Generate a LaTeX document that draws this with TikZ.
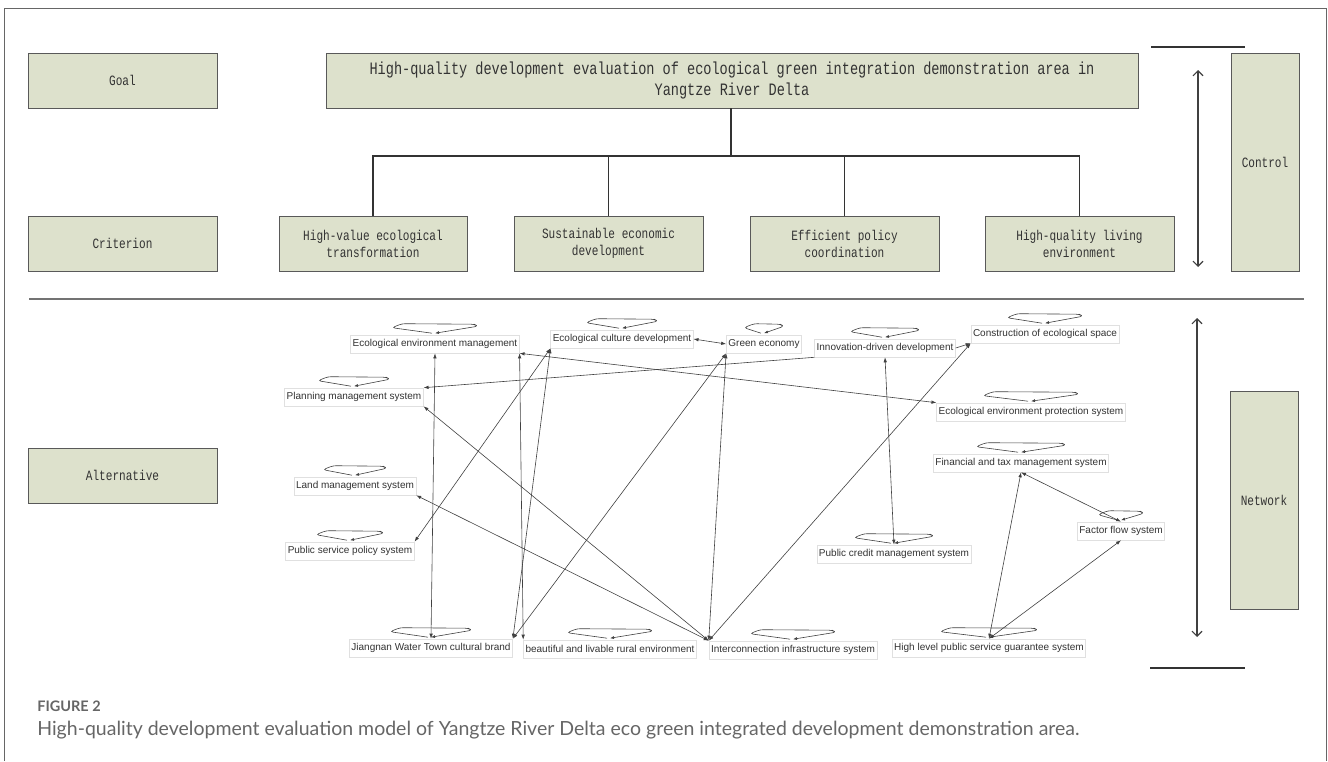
\documentclass[tikz,border=0pt]{standalone}
\usepackage{fontspec}
\setmainfont{Liberation Sans}
\newfontfamily\boxfont[FakeStretch=0.78]{Liberation Mono}
\newfontfamily\capfont{Lato}
\usetikzlibrary{arrows.meta,calc}
\definecolor{boxgreen}{HTML}{DDE1CC}
\definecolor{capgray}{HTML}{666666}
\newcommand{\selfloop}[2]{%
  \draw[loopline] ($(#1.north)+(-3,-1.5)$) -- ($(#1.north)+(-#2,-7)$) -- ($(#1.north)+(-#2+10,-11)$)
     -- ($(#1.north)+(#2-4,-10.5)$) -- ($(#1.north)+(#2,-8.5)$) -- ($(#1.north)+(0,-1.5)$);}

\begin{document}
\begin{tikzpicture}[x=1pt, y=-1pt,
                    line width=0.6pt,
                    ]
    \tikzstyle{levelbox}=[draw=black!65, fill=boxgreen, line width=0.9pt, inner sep=2pt, align=center,
                          text=black!80, minimum width=189pt, minimum height=55pt,
                          font=\boxfont\fontsize{14.2}{17}\selectfont]
    \tikzstyle{sidebox}=[levelbox, minimum width=68pt, minimum height=218pt]
    \tikzstyle{netnode}=[draw=black!12, fill=white, inner sep=2pt, minimum height=18pt,
                         text=black!80, font=\fontsize{10}{12}\selectfont]
    \tikzstyle{tree}=[draw=black!80, line width=1.2pt]
    \tikzstyle{sidearrow}=[draw=black!75, line width=1.1pt, {Straight Barb[length=5pt,width=10pt]}-{Straight Barb[length=5pt,width=10pt]}]
    \tikzstyle{link}=[draw=black!75, line width=0.6pt, {Latex[length=5pt,width=3.5pt]}-{Latex[length=5pt,width=3.5pt]}]
    \tikzstyle{onelink}=[link, -{Latex[length=5pt,width=3.5pt]}]
    \tikzstyle{loopline}=[draw=black!75, line width=0.6pt, rounded corners=3pt, -{Latex[length=4pt,width=3pt]}]

    \useasboundingbox (0,0) rectangle (1328,761);
    \draw[black!60, line width=1pt] (4,761) -- (4,8) -- (1326,8) -- (1326,761);

    \node[levelbox] (goal) at (122.5,80.5) {Goal};
    \node[levelbox, minimum width=812pt, font=\boxfont\fontsize{17.4}{21}\selectfont] (target) at (732,80.5)
        {High-quality development evaluation of ecological green integration demonstration area in\\Yangtze River Delta};
    \node[levelbox] (criterion) at (122.5,243.5) {Criterion};
    \node[levelbox, minimum width=188pt] (c1) at (373,243.5) {High-value ecological\\transformation};
    \node[levelbox] (c2) at (608.5,243.5) {Sustainable economic\\development};
    \node[levelbox] (c3) at (844.5,243.5) {Efficient policy\\coordination};
    \node[levelbox] (c4) at (1079.5,243.5) {High-quality living\\environment};
    \node[levelbox] (alternative) at (122.5,475.5) {Alternative};
    \node[sidebox] (control) at (1265,162) {Control};
    \node[sidebox] (network) at (1264,500) {Network};

    \coordinate (fork) at (731,156);
    \path[tree] (target.south -| fork) -- (fork);
    \foreach \c in {c1,c2,c3,c4}
        \path[tree] (fork) -| (\c.north);

    \coordinate (ctop) at (1198,70);
    \coordinate (cbot) at (1198,267);
    \coordinate (ntop) at (1197,318);
    \coordinate (nbot) at (1197,637);
    \path[sidearrow] (ctop) -- (cbot);
    \path[sidearrow] (ntop) -- (nbot);
    \draw[black!80, line width=1.1pt] (1151,47) coordinate (bar1) -- (1245,47) coordinate (bar2);
    \draw[black!80, line width=1.1pt] (1150,668) coordinate (bar3) -- (1245,668) coordinate (bar4);
    \draw[black!55, line width=1.6pt] (29,299) coordinate (sepl) -- (1304,299) coordinate (sepr);

    \node[netnode] (eem) at (435,344) {Ecological environment management};
    \node[netnode] (ecd) at (622,339) {Ecological culture development};
    \node[netnode] (ge) at (764,344) {Green economy};
    \node[netnode] (idd) at (885,348) {Innovation-driven development};
    \node[netnode] (ces) at (1045,334) {Construction of ecological space};
    \node[netnode] (pms) at (354,397) {Planning management system};
    \node[netnode] (eeps) at (1031,412) {Ecological environment protection system};
    \node[netnode] (ftms) at (1021,463) {Financial and tax management system};
    \node[netnode] (lms) at (355,486) {Land management system};
    \node[netnode] (psps) at (350,551) {Public service policy system};
    \node[netnode] (ffs) at (1121,531) {Factor flow system};
    \node[netnode] (pcms) at (894,554) {Public credit management system};
    \node[netnode] (jwtcb) at (431,648) {Jiangnan Water Town cultural brand};
    \node[netnode] (blre) at (610,649) {beautiful and livable rural environment};
    \node[netnode] (iis) at (793,650) {Interconnection infrastructure system};
    \node[netnode] (hlpsgs) at (989,648) {High level public service guarantee system};

    \foreach \n/\w in {eem/43, ecd/36, ge/20, idd/35, ces/38, pms/36, eeps/48, ftms/45,
                       lms/32, psps/34, ffs/23, pcms/40, jwtcb/41, blre/43, iis/43, hlpsgs/49}
        \selfloop{\n}{\w};

    \path[link] (ecd.east) -- (ge.west);
    \path[onelink] (idd.east) -- (ces.south west);
    \path[onelink] (idd.south west) -- (pms.north east);
    \path[link] (eem.south east) -- (eeps.north west);
    \path[link] (eem.south) -- (jwtcb.north);
    \path[link] (eem.south east) -- (blre.north west);
    \path[link] (ecd.south west) -- (psps.north east);
    \path[link] (ecd.south west) -- (jwtcb.north east);
    \path[link] (ge.south west) -- (jwtcb.north east);
    \path[link] (ge.south west) -- (iis.north west);
    \path[link] (lms.south east) -- (iis.north west);
    \path[link] (pms.south east) -- (iis.north west);
    \path[link] (ces.south west) -- (iis.north west);
    \path[link] (idd.south) -- (pcms.north);
    \path[link] (ftms.south) -- (ffs.north);
    \path[link] (hlpsgs.north) -- (ftms.south);
    \path[link] (hlpsgs.north) -- (ffs.south);

    \node[anchor=base west, inner sep=0, text=capgray, font=\capfont\bfseries\fontsize{14.5}{16}\selectfont] (figno) at (37,711) {FIGURE 2};
    \node[anchor=base west, inner sep=0, text=capgray, font=\capfont\fontsize{19.5}{22}\selectfont] (caption) at (37,735)
        {High-quality development evaluation model of Yangtze River Delta eco green integrated development demonstration area.};
\end{tikzpicture}
\end{document}
